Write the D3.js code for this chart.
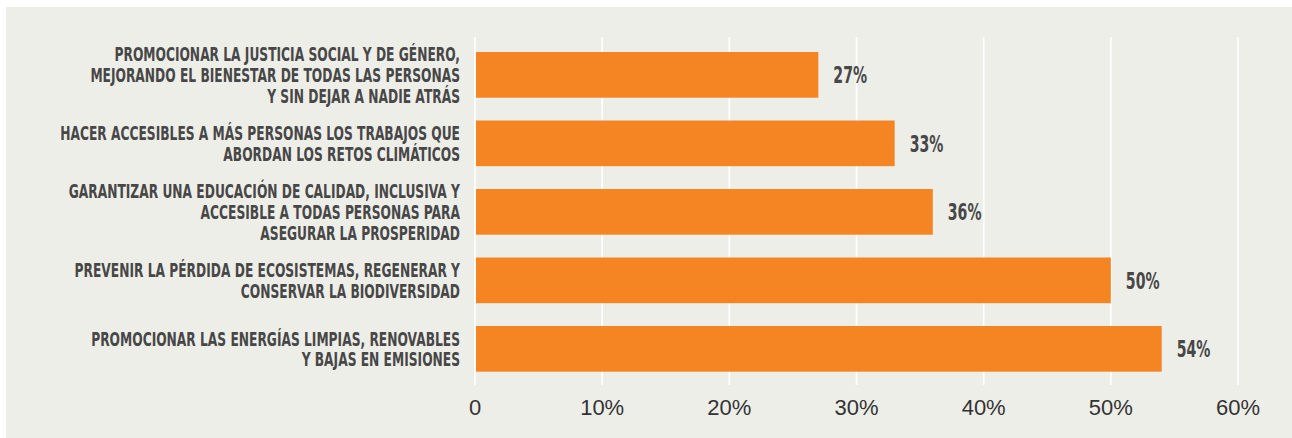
<!DOCTYPE html>
<html>
<head>
<meta charset="utf-8">
<script src="https://cdn.jsdelivr.net/npm/d3@7"></script>
<style>
  html, body { margin: 0; padding: 0; background: #ffffff; }
  svg { display: block; }
</style>
</head>
<body>
<svg id="chart" width="1292" height="438"></svg>
<script>
// Category labels (one entry per line of text), top to bottom
const categories = [
  ["PROMOCIONAR LA JUSTICIA SOCIAL Y DE GÉNERO,", "MEJORANDO EL BIENESTAR DE TODAS LAS PERSONAS", "Y SIN DEJAR A NADIE ATRÁS"],
  ["HACER ACCESIBLES A MÁS PERSONAS LOS TRABAJOS QUE", "ABORDAN LOS RETOS CLIMÁTICOS"],
  ["GARANTIZAR UNA EDUCACIÓN DE CALIDAD, INCLUSIVA Y", "ACCESIBLE A TODAS PERSONAS PARA", "ASEGURAR LA PROSPERIDAD"],
  ["PREVENIR LA PÉRDIDA DE ECOSISTEMAS, REGENERAR Y", "CONSERVAR LA BIODIVERSIDAD"],
  ["PROMOCIONAR LAS ENERGÍAS LIMPIAS, RENOVABLES", "Y BAJAS EN EMISIONES"]
];
// Share of responses, in percent
const values = [27, 33, 36, 50, 54];
// Axis ticks, in percent
const ticks = [0, 10, 20, 30, 40, 50, 60];

const svg = d3.select("#chart");
const W = 1292, H = 438;

// Light panel behind the chart
svg.append("rect")
  .attr("x", 6).attr("y", 7)
  .attr("width", W - 6).attr("height", H - 7)
  .attr("fill", "#eeeee9");

const x = d3.scaleLinear().domain([0, 60]).range([475, 1238]);
const y = d3.scaleBand()
  .domain(d3.range(categories.length))
  .range([29.2, 394.5])
  .padding(0.333);

// Vertical gridlines
svg.append("g")
  .selectAll("line")
  .data(ticks)
  .join("line")
  .attr("x1", d => x(d)).attr("x2", d => x(d))
  .attr("y1", 37).attr("y2", 385)
  .attr("stroke", "#ffffff")
  .attr("stroke-width", 1.6);

// Tick labels
svg.append("g")
  .selectAll("text")
  .data(ticks)
  .join("text")
  .attr("x", d => x(d))
  .attr("y", 415)
  .attr("text-anchor", "middle")
  .attr("font-family", "'Liberation Sans', Arial, Helvetica, sans-serif")
  .attr("font-size", 22)
  .attr("fill", "#333333")
  .text(d => d === 0 ? "0" : d + "%");

// Bars
svg.append("g")
  .selectAll("rect")
  .data(values)
  .join("rect")
  .attr("x", x(0) + 1)
  .attr("y", (d, i) => y(i))
  .attr("width", d => x(d) - x(0) - 1)
  .attr("height", y.bandwidth())
  .attr("fill", "#f58423");

// Condensed heading style: bold face squeezed horizontally
const labelFont = "'DejaVu Sans', sans-serif";
const labelSize = 20;
const lineGap = 20.7;
const labelRight = 460;
const widestLine = 400;

// Measure the widest line to derive the horizontal squeeze
const probe = svg.append("text")
  .attr("font-family", labelFont)
  .attr("font-weight", "bold")
  .attr("font-size", labelSize);
let maxW = 0;
categories.flat().forEach(s => {
  probe.text(s);
  maxW = Math.max(maxW, probe.node().getComputedTextLength());
});
probe.remove();
const sx = widestLine / maxW;

// Category labels, right-aligned beside the bars
const labels = svg.append("g")
  .selectAll("g")
  .data(categories)
  .join("g")
  .attr("transform", (d, i) => `translate(${labelRight},${y(i) + y.bandwidth() / 2}) scale(${sx},1)`);

labels.append("text")
  .attr("text-anchor", "end")
  .attr("font-family", labelFont)
  .attr("font-weight", "bold")
  .attr("font-size", labelSize)
  .attr("fill", "#474747")
  .selectAll("tspan")
  .data(d => d.map((s, k) => ({ s, k, n: d.length })))
  .join("tspan")
  .attr("x", 0)
  .attr("y", t => (t.k - (t.n - 1) / 2) * lineGap + labelSize * 0.36)
  .text(t => t.s);

// Value labels at the end of each bar
svg.append("g")
  .selectAll("g")
  .data(values)
  .join("g")
  .attr("transform", (d, i) => `translate(${x(d) + 15},${y(i) + y.bandwidth() / 2}) scale(${sx},1)`)
  .append("text")
  .attr("y", 8.5)
  .attr("font-family", labelFont)
  .attr("font-weight", "bold")
  .attr("font-size", 23)
  .attr("fill", "#474747")
  .text(d => d + "%");
</script>
</body>
</html>
